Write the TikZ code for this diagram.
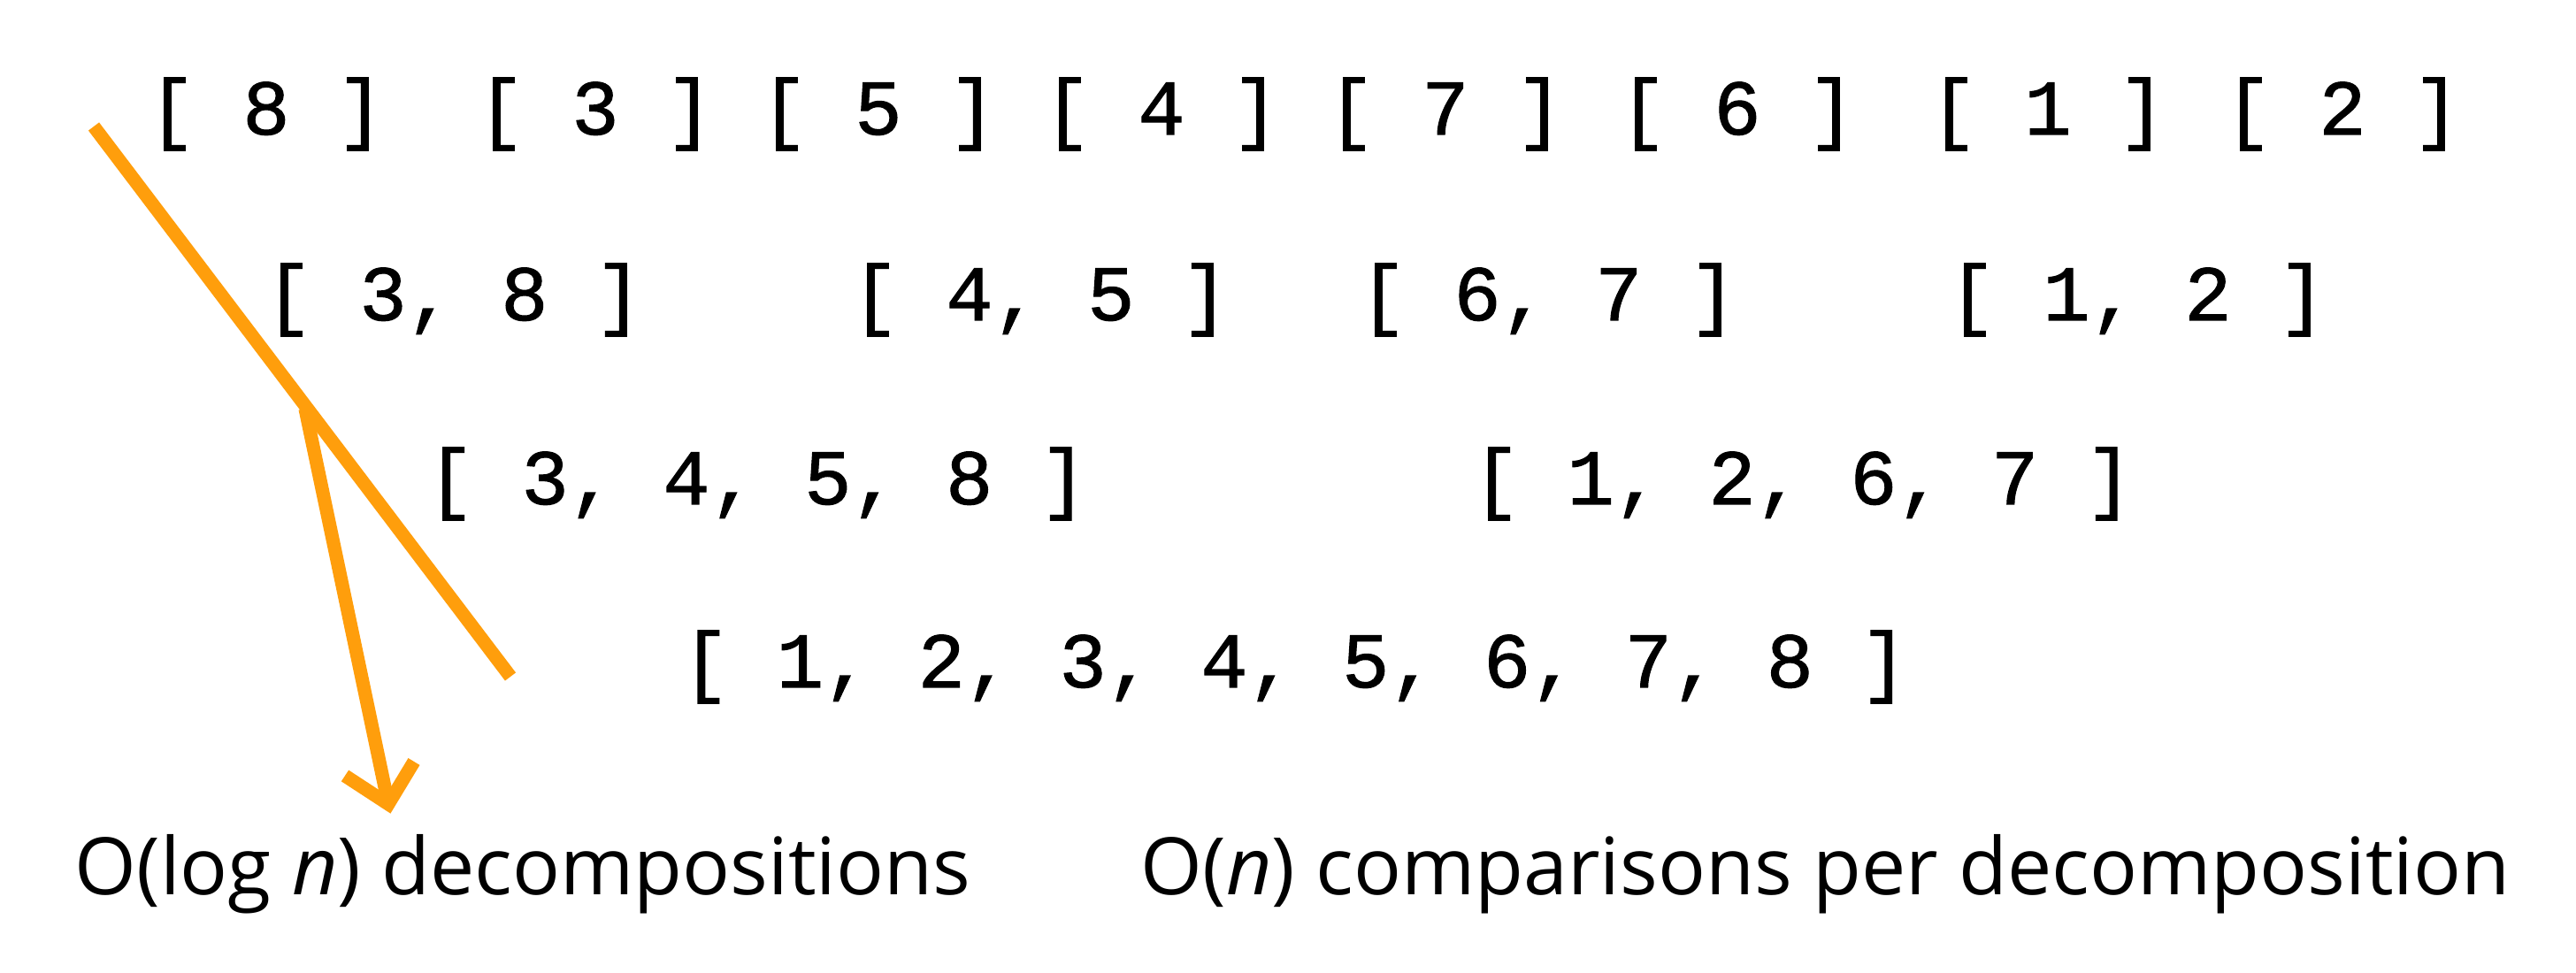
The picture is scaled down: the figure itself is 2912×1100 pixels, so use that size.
\documentclass[tikz,border=0pt]{standalone}
\usepackage{fontspec}
\setmainfont{Open Sans}
\newfontfamily\codefont{Liberation Mono}[FakeBold=1.2]
\definecolor{myorange}{RGB}{255,158,12}
\tikzset{
  arr/.style={font=\codefont\fontsize{22.2}{27}\selectfont, inner sep=0pt, anchor=base},
  lbl/.style={font=\fontsize{22.4}{27}\selectfont, inner sep=0pt, anchor=base west},
  orangeline/.style={draw=myorange, line width=3.8pt, line cap=butt}
}
\begin{document}
\begin{tikzpicture}[x=0.25pt,y=-0.25pt]
\useasboundingbox (0,0) rectangle (2912,1100);
% row 1
\node[arr] (r1a) at (301,152) {[ 8 ]};
\node[arr] (r1b) at (673,152) {[ 3 ]};
\node[arr] (r1c) at (993,152) {[ 5 ]};
\node[arr] (r1d) at (1313,152) {[ 4 ]};
\node[arr] (r1e) at (1634,152) {[ 7 ]};
\node[arr] (r1f) at (1964,152) {[ 6 ]};
\node[arr] (r1g) at (2315,152) {[ 1 ]};
\node[arr] (r1h) at (2648,152) {[ 2 ]};
% row 2
\node[arr] (r2a) at (513,362) {[ 3, 8 ]};
\node[arr] (r2b) at (1176,362) {[ 4, 5 ]};
\node[arr] (r2c) at (1750,362) {[ 6, 7 ]};
\node[arr] (r2d) at (2416,362) {[ 1, 2 ]};
% row 3
\node[arr] (r3a) at (856,570) {[ 3, 4, 5, 8 ]};
\node[arr] (r3b) at (2038,570) {[ 1, 2, 6, 7 ]};
% row 4
\node[arr] (r4a) at (1464,777) {[ 1, 2, 3, 4, 5, 6, 7, 8 ]};
% labels
\node[lbl] (l1) at (84,1011) {O(log \textit{n}) decompositions};
\node[lbl] (l2) at (1289,1011) {O(\textit{n}) comparisons per decomposition};
% orange lines
\coordinate (s1) at (106,143);
\coordinate (s2) at (577,765);
\coordinate (a0) at (345,462);
\coordinate (tip) at (439,909);
\coordinate (w1) at (390,877);
\coordinate (w2) at (468,861);
\draw[orangeline] (s1) -- (s2);
\draw[orangeline] (a0) -- (tip);
\draw[orangeline, line join=miter] (w1) -- (tip) -- (w2);
\end{tikzpicture}
\end{document}
